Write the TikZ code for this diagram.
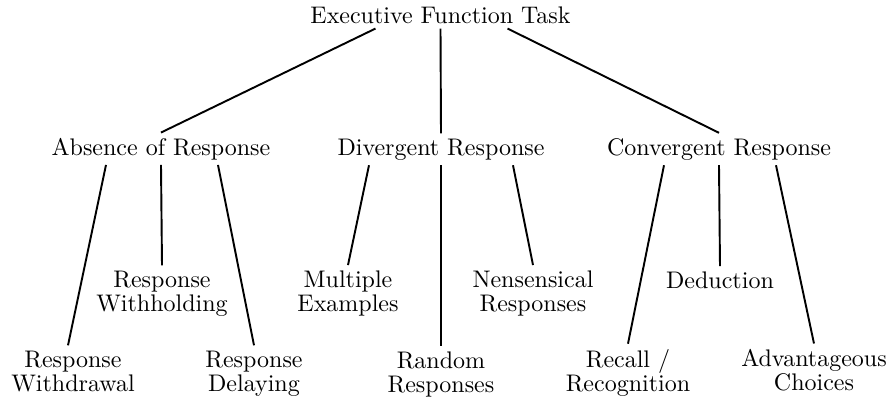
\documentclass[tikz,border=0pt]{standalone}
\usetikzlibrary{calc}
\begin{document}
\begin{tikzpicture}[
x=0.41667pt,y=-0.41667pt,
item/.style={anchor=base,align=center,inner sep=2pt,font=\fontsize{10}{10}\selectfont},
link/.style={thick}]
\useasboundingbox (0,0) rectangle (893,398);
\node[item] (task) at (440.5,23) {Executive Function Task};
\node[item] (absence) at (161,155) {Absence of Response};
\node[item] (divergent) at (441,155) {Divergent Response};
\node[item] (convergent) at (719,155) {Convergent Response};
\node[item] (withholding) at (162,311) {Response\\Withholding};
\node[item] (multiple) at (348,311) {Multiple\\Examples};
\node[item] (nonsense) at (533,311) {Nensensical\\Responses};
\node[item] (deduction) at (720,288) {Deduction};
\node[item] (withdrawal) at (73,391) {Response\\Withdrawal};
\node[item] (delaying) at (254,391) {Response\\Delaying};
\node[item] (random) at (441,392) {Random\\Responses};
\node[item] (recall) at (628,391) {Recall /\\Recognition};
\node[item] (choices) at (814,390) {Advantageous\\Choices};
\draw[link] ($(task.south)+(-65,0)$)--(absence.north);
\draw[link] (task.south)--(divergent.north);
\draw[link] ($(task.south)+(67,0)$)--(convergent.north);
\draw[link] ($(absence.south)+(-55,0)$)--($(withdrawal.north)+(-5,0)$);
\draw[link] (absence.south)--(withholding.north);
\draw[link] ($(absence.south)+(57,0)$)--(delaying.north);
\draw[link] ($(divergent.south)+(-72,0)$)--(multiple.north);
\draw[link] (divergent.south)--(random.north);
\draw[link] ($(divergent.south)+(72,0)$)--(nonsense.north);
\draw[link] ($(convergent.south)+(-55,0)$)--(recall.north);
\draw[link] (convergent.south)--(deduction.north);
\draw[link] ($(convergent.south)+(57,0)$)--(choices.north);
\end{tikzpicture}
\end{document}
